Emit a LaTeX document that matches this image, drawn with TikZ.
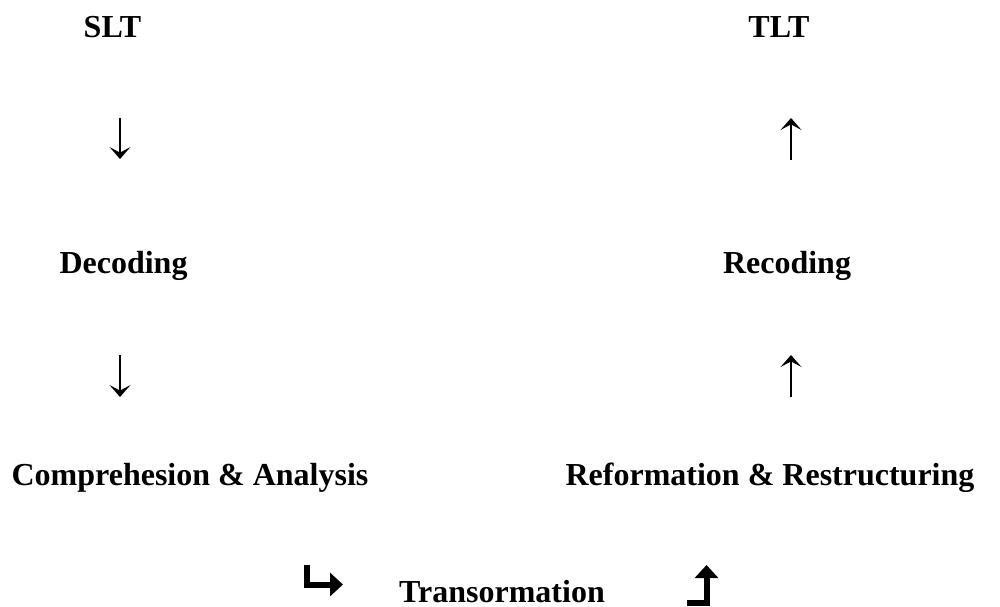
\documentclass[tikz,border=0pt]{standalone}
\usepackage{fontspec}
\setmainfont{Liberation Serif}
\usetikzlibrary{arrows.meta}

\tikzset{
    lbl/.style={font=\fontsize{16}{19}\selectfont\bfseries, anchor=base, inner sep=0pt},
    thinarr/.style={line width=1.1pt, -{Stealth[length=6pt,width=10.5pt,inset=2.8pt]}},
    bentarr/.style={line width=3pt, line join=miter, -{Triangle[length=6.5pt,width=11.5pt]}}
}

\begin{document}
\begin{tikzpicture}[x=0.5pt,y=-0.5pt]
    \useasboundingbox(0,0)rectangle(1000,606);

    % text blocks
    \node[lbl](slt) at (112.5,37){SLT};
    \node[lbl](tlt) at (779,37){TLT};
    \node[lbl](dec) at (123.5,273){Decoding};
    \node[lbl](rec) at (787,273){Recoding};
    \node[lbl](comp) at (190,485){Comprehesion \& Analysis};
    \node[lbl](refo) at (770,485){Reformation \& Restructuring};
    \node[lbl](trans) at (502,602){Transormation};

    % arrow ends
    \coordinate(d1a) at (120,118); \coordinate(d1b) at (120,159);
    \coordinate(d2a) at (120,355); \coordinate(d2b) at (120,397);
    \coordinate(u1a) at (791,160); \coordinate(u1b) at (791,118);
    \coordinate(u2a) at (791,397); \coordinate(u2b) at (791,355);

    \draw[thinarr](d1a)--(d1b);
    \draw[thinarr](d2a)--(d2b);
    \draw[thinarr](u1a)--(u1b);
    \draw[thinarr](u2a)--(u2b);

    % bent arrows round the transformation
    \coordinate(bl) at (306.5,565); \coordinate(br) at (343,584.5);
    \coordinate(rl) at (687,602.5); \coordinate(rr) at (706.5,565);
    \draw[bentarr](bl)|-(br);
    \draw[bentarr](rl)-|(rr);
\end{tikzpicture}
\end{document}
